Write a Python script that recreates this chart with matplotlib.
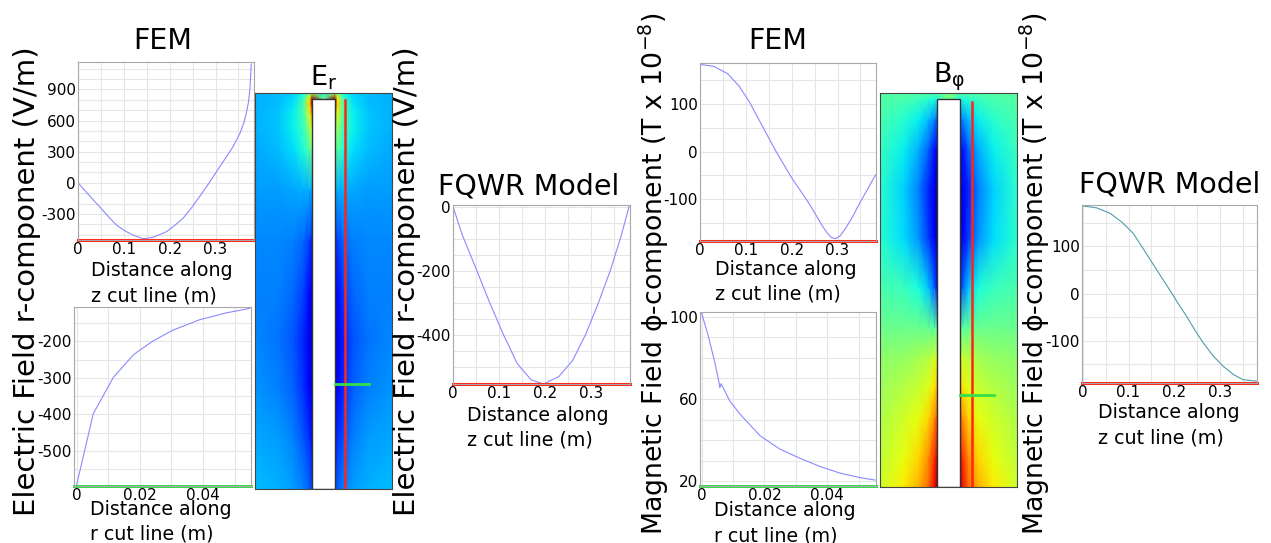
import numpy as np
import matplotlib
matplotlib.use('Agg')
import matplotlib.pyplot as plt
from matplotlib.patches import Rectangle
from matplotlib.ticker import MultipleLocator

plt.rcParams['font.family'] = 'DejaVu Sans'
plt.rcParams['axes.unicode_minus'] = False

W, H = 1271, 543

# ---------------- line data ----------------
# FEM, E_r along z cut line
fem_er_z_dist = [0, 0.02, 0.047, 0.066, 0.084, 0.103, 0.12, 0.142, 0.164, 0.193, 0.21,
                 0.229, 0.247, 0.265, 0.284, 0.302, 0.32, 0.338, 0.353, 0.362,
                 0.367, 0.372, 0.375, 0.377, 0.378]
fem_er_z_val = [0, -100, -231, -325, -408, -465, -504, -540, -526, -472, -415,
                -343, -245, -135, -15, 106, 225, 346, 475, 580,
                667, 780, 900, 1050, 1145]

# FEM, E_r along r cut line
fem_er_r_dist = [0, 0.0053, 0.0117, 0.0181, 0.024, 0.0303, 0.0389, 0.0474, 0.0547]
fem_er_r_val = [-594, -398, -298, -236, -200, -170, -141, -122, -110]

# FQWR model, E_r along z
fqwr_er_dist = [0, 0.02, 0.052, 0.08, 0.11, 0.14, 0.17, 0.197, 0.23, 0.26,
                0.288, 0.315, 0.342, 0.365, 0.383]
fqwr_er_val = [0, -88, -200, -300, -400, -490, -540, -553, -530, -480,
               -400, -305, -200, -95, 0]

# FEM, B_phi along z cut line
fem_b_z_dist = [0, 0.03, 0.06, 0.085, 0.107, 0.135, 0.166, 0.2, 0.232, 0.24,
                0.255, 0.268, 0.278, 0.287, 0.296, 0.306, 0.318, 0.332, 0.35,
                0.366, 0.383]
fem_b_z_val = [182, 178, 163, 137, 105, 55, 0, -55, -100, -112,
               -136, -157, -171, -180, -182, -176, -160, -138, -105,
               -78, -49]

# FEM, B_phi along r cut line
fem_b_r_dist = [0, 0.0021, 0.0042, 0.0055, 0.0058, 0.0062, 0.009, 0.0122, 0.0186,
                0.0249, 0.0313, 0.0377, 0.044, 0.0504, 0.0552]
fem_b_r_val = [102, 90.9, 77.9, 68.5, 65.5, 67.5, 59, 52.7, 42.1,
               35.6, 31.1, 27.1, 23.9, 21.7, 20.5]

# FQWR model, B_phi along z
fqwr_b_dist = [0, 0.03, 0.06, 0.085, 0.11, 0.133, 0.154, 0.172, 0.19, 0.208,
               0.227, 0.245, 0.264, 0.285, 0.307, 0.33, 0.351, 0.38]
fqwr_b_val = [186, 182, 170, 152, 128, 94, 62, 35, 8, -20,
              -48, -77, -105, -132, -154, -172, -183, -186]

# ---------------- field maps (jet colour level 0..1) ----------------
field_r = [0.0115, 0.014, 0.02, 0.03, 0.045, 0.0685]   # radius of columns (m)
cond_r, cond_h = 0.0115, 0.39

er_z = [0, 0.05, 0.1, 0.15, 0.2, 0.25, 0.3, 0.34, 0.36, 0.375, 0.385, 0.39, 0.396]
er_map = [
    [0.20, 0.22, 0.25, 0.28, 0.30, 0.31],
    [0.14, 0.17, 0.21, 0.25, 0.28, 0.29],
    [0.08, 0.12, 0.17, 0.22, 0.25, 0.27],
    [0.06, 0.10, 0.16, 0.21, 0.24, 0.26],
    [0.09, 0.13, 0.19, 0.23, 0.25, 0.25],
    [0.16, 0.19, 0.23, 0.25, 0.26, 0.26],
    [0.30, 0.30, 0.30, 0.29, 0.28, 0.28],
    [0.50, 0.45, 0.39, 0.34, 0.31, 0.29],
    [0.62, 0.52, 0.42, 0.36, 0.32, 0.30],
    [0.75, 0.60, 0.44, 0.36, 0.32, 0.30],
    [0.92, 0.68, 0.44, 0.35, 0.31, 0.30],
    [0.97, 0.66, 0.42, 0.34, 0.31, 0.30],
    [0.55, 0.50, 0.38, 0.33, 0.31, 0.30],
]
er_axis = [0.20, 0.14, 0.08, 0.06, 0.09, 0.16, 0.30, 0.50, 0.62, 0.75, 0.9, 0.45, 0.40]

b_z = [0, 0.03, 0.07, 0.1, 0.13, 0.16, 0.2, 0.25, 0.3, 0.34, 0.37, 0.39, 0.396]
b_map = [
    [0.97, 0.90, 0.80, 0.72, 0.66, 0.60],
    [0.92, 0.86, 0.76, 0.68, 0.63, 0.58],
    [0.82, 0.76, 0.68, 0.63, 0.60, 0.56],
    [0.72, 0.67, 0.62, 0.59, 0.57, 0.54],
    [0.62, 0.60, 0.57, 0.55, 0.53, 0.52],
    [0.45, 0.46, 0.47, 0.48, 0.48, 0.48],
    [0.15, 0.22, 0.32, 0.38, 0.42, 0.44],
    [0.05, 0.10, 0.18, 0.27, 0.34, 0.40],
    [0.05, 0.09, 0.16, 0.25, 0.33, 0.40],
    [0.10, 0.14, 0.22, 0.30, 0.36, 0.42],
    [0.22, 0.26, 0.31, 0.36, 0.40, 0.44],
    [0.38, 0.38, 0.40, 0.42, 0.44, 0.45],
    [0.45, 0.45, 0.45, 0.45, 0.45, 0.45],
]
b_axis = [0.97, 0.92, 0.82, 0.72, 0.62, 0.45, 0.15, 0.05, 0.05, 0.10, 0.22, 0.50, 0.50]

LINE_BLUE = '#8a8aff'
LINE_TEAL = '#4f9ea8'
CUT_RED = '#ff2418'
CUT_GREEN = '#33e04a'

fig = plt.figure(figsize=(W / 100, H / 100), dpi=100)


def px_axes(x0, y0, x1, y1):
    return fig.add_axes([x0 / W, 1 - y1 / H, (x1 - x0) / W, (y1 - y0) / H])


def px_text(x, y, s, **kw):
    return fig.text(x / W, 1 - y / H, s, **kw)


def line_panel(box, x, y, xlim, ylim, xticks, xlabels, yticks, xminor, yminor,
               color, cut_color):
    ax = px_axes(*box)
    ax.plot(x, y, color=color, lw=0.8)
    ax.set_xlim(xlim)
    ax.set_ylim(ylim)
    ax.set_xticks(xticks)
    ax.set_xticklabels(xlabels)
    ax.set_yticks(yticks)
    ax.xaxis.set_minor_locator(MultipleLocator(xminor))
    ax.yaxis.set_minor_locator(MultipleLocator(yminor))
    ax.grid(True, which='both', color='#e6e6e6', lw=0.8)
    ax.set_axisbelow(True)
    ax.tick_params(which='both', direction='in', length=0, labelsize=11, pad=1.5)
    for s in ax.spines.values():
        s.set_color('#a8a8a8')
    ax.axhline(ylim[0], color=cut_color, lw=2.2, clip_on=False)
    return ax


def field_panel(box, rows, half, axis_col, red_r, red_top, green_z):
    ax = px_axes(*box)
    vals = np.array(half)
    full = np.hstack([vals[:, ::-1], np.array(axis_col)[:, None], vals])
    r = np.array(field_r)
    rr = np.concatenate([-r[::-1], [0.0], r])
    X, Z = np.meshgrid(rr, rows)
    ax.pcolormesh(X, Z, full, shading='gouraud', cmap='jet', vmin=0, vmax=1)
    ax.add_patch(Rectangle((-cond_r, 0), 2 * cond_r, cond_h, facecolor='white',
                           edgecolor='#333333', lw=1, zorder=2))
    ax.plot([red_r, red_r], [0, red_top], color=CUT_RED, lw=1.8, zorder=3)
    ax.plot([cond_r, 0.0455], [green_z, green_z], color=CUT_GREEN, lw=2, zorder=3)
    ax.set_xlim(rr[0], rr[-1])
    ax.set_ylim(rows[0], rows[-1])
    ax.set_xticks([])
    ax.set_yticks([])
    for s in ax.spines.values():
        s.set_color('#444444')
    return ax


z_ticks = [0, 0.1, 0.2, 0.3]
z_labels = ['0', '0.1', '0.2', '0.3']
r_ticks = [0, 0.02, 0.04]
r_labels = ['0', '0.02', '0.04']

# ---- electric field ----
line_panel((78, 62, 254, 240), fem_er_z_dist, fem_er_z_val, (0, 0.384), (-552, 1165),
           z_ticks, z_labels, [-300, 0, 300, 600, 900], 0.05, 100, LINE_BLUE, CUT_RED)
line_panel((74, 307, 251, 486), fem_er_r_dist, fem_er_r_val, (-0.0008, 0.0552), (-596, -106),
           r_ticks, r_labels, [-500, -400, -300, -200], 0.01, 50, LINE_BLUE, CUT_GREEN)
field_panel((255, 93, 392, 489), er_z, er_map, er_axis, 0.0215, 0.389, 0.105)
line_panel((453, 205, 630, 384), fqwr_er_dist, fqwr_er_val, (0, 0.385), (-553, 5),
           z_ticks, z_labels, [-400, -200, 0], 0.05, 50, LINE_BLUE, CUT_RED)

# ---- magnetic field ----
line_panel((700, 63, 876, 241), fem_b_z_dist, fem_b_z_val, (0, 0.384), (-187, 185),
           z_ticks, z_labels, [-100, 0, 100], 0.05, 50, LINE_BLUE, CUT_RED)
line_panel((700, 312, 876, 486), fem_b_r_dist, fem_b_r_val, (-0.0005, 0.0555), (17.6, 102.4),
           r_ticks, r_labels, [20, 60, 100], 0.01, 10, LINE_BLUE, CUT_GREEN)
field_panel((880, 93, 1017, 487), b_z, b_map, b_axis, 0.023, 0.387, 0.092)
line_panel((1082, 205, 1257, 383), fqwr_b_dist, fqwr_b_val, (-0.002, 0.3816), (-190, 188),
           z_ticks, z_labels, [-100, 0, 100], 0.05, 50, LINE_TEAL, CUT_RED)

# ---- titles ----
big = 20.5
px_text(163, 27, 'FEM', fontsize=big, ha='center', va='top')
px_text(778, 27, 'FEM', fontsize=big, ha='center', va='top')
px_text(529, 172, 'FQWR Model', fontsize=big, ha='center', va='top')
px_text(1170, 171, 'FQWR Model', fontsize=big, ha='center', va='top')
px_text(324, 64, r'E$_{\mathregular{r}}$', fontsize=19.5, ha='center', va='top')
px_text(949, 61, r'B$_{\mathregular{\varphi}}$', fontsize=19.5, ha='center', va='top')

# ---- axis labels ----
e_label = 'Electric Field r-component (V/m)'
b_label = 'Magnetic Field \u03d5-component (T x 10$^{\\mathregular{-8}}$)'
px_text(27, 281, e_label, fontsize=21, rotation=90, ha='center', va='center')
px_text(407, 281, e_label, fontsize=21, rotation=90, ha='center', va='center')
px_text(654, 274, b_label, fontsize=19.3, rotation=90, ha='center', va='center')
px_text(1035, 274, b_label, fontsize=19.3, rotation=90, ha='center', va='center')

z_xlabel = 'Distance along\nz cut line (m)'
r_xlabel = 'Distance along\nr cut line (m)'
for x, y, s in [(162, 261.5, z_xlabel), (161, 500, r_xlabel), (538, 406, z_xlabel),
                (786, 259.5, z_xlabel), (785, 501, r_xlabel), (1169, 403, z_xlabel)]:
    px_text(x, y, s, fontsize=13.7, ha='center', va='top', multialignment='left',
            linespacing=1.4)

fig.savefig('out.png', dpi=100, facecolor='white')
